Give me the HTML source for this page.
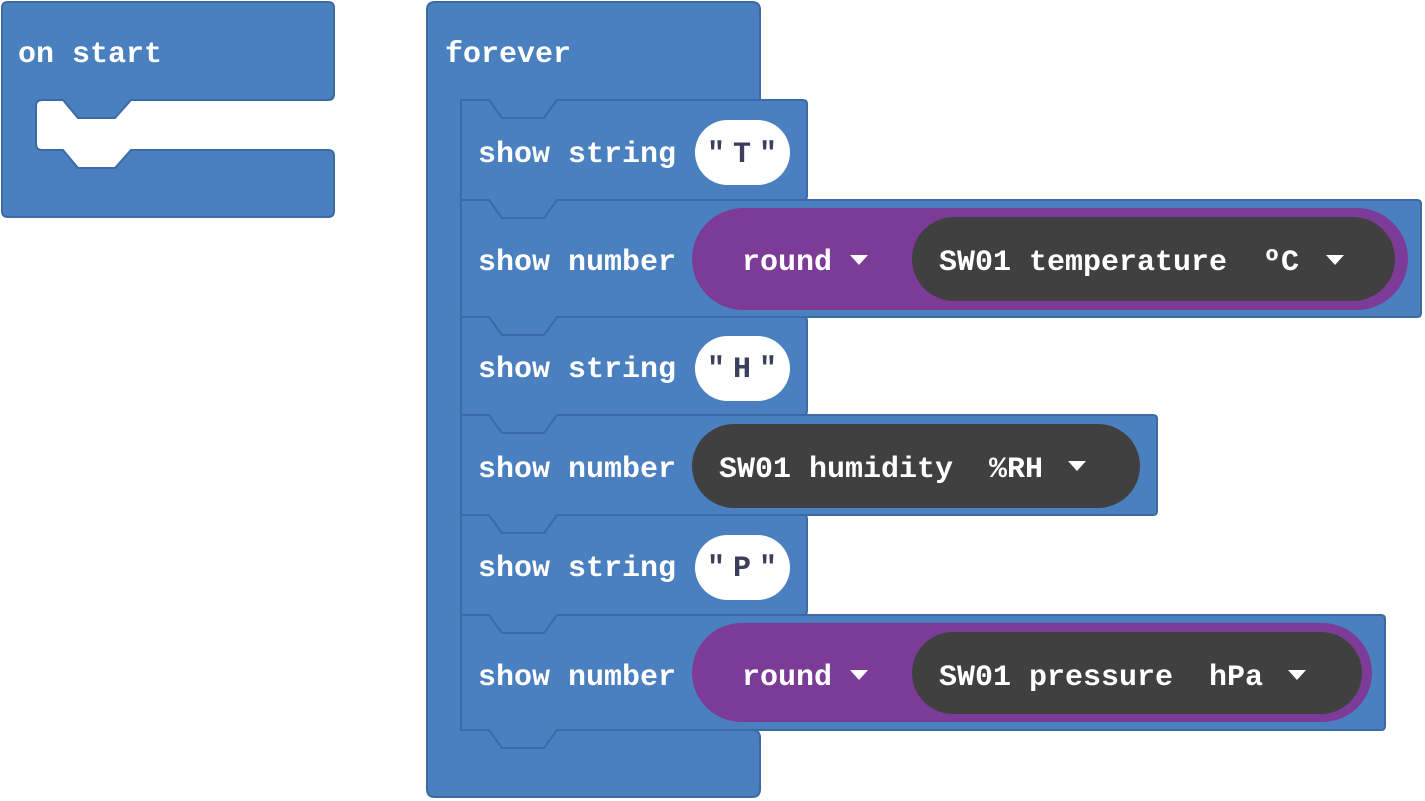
<!DOCTYPE html>
<html><head><meta charset="utf-8"><style>
html,body{margin:0;padding:0;background:#fff;width:1425px;height:801px;overflow:hidden}
svg{display:block}
text{font-family:"Liberation Mono","DejaVu Sans Mono",monospace;font-weight:bold;font-size:30px;fill:#fff}
.q{fill:#3b3f5c;text-anchor:middle}
</style></head><body>
<svg width="1425" height="801" viewBox="0 0 1425 801">
<g fill="#4a80c0" stroke="#3b6aa5" stroke-width="2">
<path d="M2,8 q0-6 6-6 H328 q6 0 6 6 V94 q0 6-6 6 H131 l-16,18 H78 l-15,-18 H42 q-6 0-6 6 V144 q0 6 6 6 H63 l15,18 H115 l16,-18 H328 q6 0 6 6 V211 q0 6-6 6 H8 q-6 0-6-6 Z"/>
<path d="M427,10 q0-8 8-8 H752 q8 0 8 8 V100 H557 l-13,18 H502 l-13,-18 H461 V730 H752 q8 0 8 8 V789 q0 8-8 8 H435 q-8 0-8-8 Z"/>
<path d="M461,615 H489 l13,18 H544 l13,-18 H1381 q4 0 4 4 V726 q0 4-4 4 H557 l-13,18 H502 l-13,-18 H461 Z"/>
<path d="M461,515 H489 l13,18 H544 l13,-18 H803 q4 0 4 4 V611 q0 4-4 4 H557 l-13,18 H502 l-13,-18 H461 Z"/>
<path d="M461,415 H489 l13,18 H544 l13,-18 H1153 q4 0 4 4 V511 q0 4-4 4 H557 l-13,18 H502 l-13,-18 H461 Z"/>
<path d="M461,317 H489 l13,18 H544 l13,-18 H803 q4 0 4 4 V411 q0 4-4 4 H557 l-13,18 H502 l-13,-18 H461 Z"/>
<path d="M461,200 H489 l13,18 H544 l13,-18 H1417 q4 0 4 4 V313 q0 4-4 4 H557 l-13,18 H502 l-13,-18 H461 Z"/>
<path d="M461,100 H489 l13,18 H544 l13,-18 H803 q4 0 4 4 V196 q0 4-4 4 H557 l-13,18 H502 l-13,-18 H461 Z"/>
</g>
<rect x="695" y="120" width="95" height="65" rx="32.5" fill="#fff"/>
<rect x="695" y="336" width="95" height="65" rx="32.5" fill="#fff"/>
<rect x="695" y="535" width="95" height="65" rx="32.5" fill="#fff"/>
<rect x="692" y="208" width="716" height="102" rx="51" fill="#7d3b98"/>
<rect x="912" y="217" width="483" height="84" rx="42" fill="#404040"/>
<rect x="692" y="424" width="448" height="84" rx="42" fill="#404040"/>
<rect x="692" y="623" width="680" height="99" rx="49.5" fill="#7d3b98"/>
<rect x="912" y="632" width="450" height="82" rx="41" fill="#404040"/>
<g fill="#fff">
<path d="M850,255 h18 l-9,10 Z"/>
<path d="M1326,255 h18 l-9,10 Z"/>
<path d="M1068,461 h18 l-9,10 Z"/>
<path d="M850,670 h18 l-9,10 Z"/>
<path d="M1288,670 h18 l-9,10 Z"/>
</g>
<text x="18" y="62">on start</text>
<text x="445" y="62">forever</text>
<text x="478" y="162">show string</text>
<text x="478" y="270">show number</text>
<text x="478" y="377">show string</text>
<text x="478" y="477">show number</text>
<text x="478" y="576">show string</text>
<text x="478" y="685">show number</text>
<text class="q" x="716" y="162">"</text><text class="q" x="742" y="162">T</text><text class="q" x="768" y="162">"</text>
<text class="q" x="716" y="377">"</text><text class="q" x="742" y="377">H</text><text class="q" x="768" y="377">"</text>
<text class="q" x="716" y="576">"</text><text class="q" x="742" y="576">P</text><text class="q" x="768" y="576">"</text>
<text x="742" y="270">round</text>
<text x="939" y="270" xml:space="preserve">SW01 temperature  ºC</text>
<text x="719" y="477" xml:space="preserve">SW01 humidity  %RH</text>
<text x="742" y="685">round</text>
<text x="939" y="685" xml:space="preserve">SW01 pressure  hPa</text>
</svg>
</body></html>
